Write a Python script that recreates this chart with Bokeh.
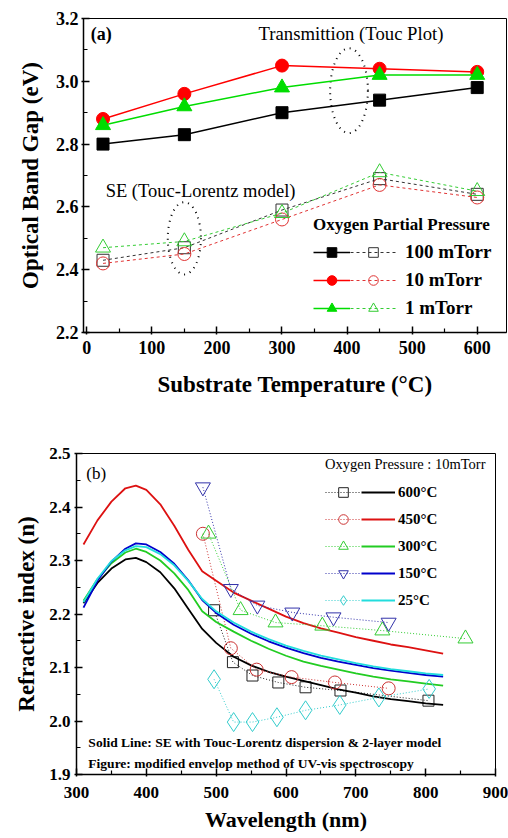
from bokeh.plotting import figure
from bokeh.models import FixedTicker, Label, Legend, LegendItem, PrintfTickFormatter
from bokeh.embed import file_html
from bokeh.resources import INLINE

# ---------------- data: panel (a) ----------------
temps = [25, 150, 300, 450, 600]
tr_100 = [2.80, 2.83, 2.90, 2.94, 2.98]
tr_10 = [2.88, 2.96, 3.05, 3.04, 3.03]
tr_1 = [2.86, 2.92, 2.98, 3.02, 3.02]
se_100 = [2.43, 2.47, 2.59, 2.69, 2.64]
se_10 = [2.42, 2.45, 2.56, 2.67, 2.63]
se_1 = [2.47, 2.49, 2.58, 2.71, 2.65]
pressure_labels = ["100 mTorr", "10 mTorr", "1 mTorr"]
a_xticks = [0, 100, 200, 300, 400, 500, 600]
a_yticks = [2.2, 2.4, 2.6, 2.8, 3.0, 3.2]

# ---------------- data: panel (b) ----------------
wl_curve = [310, 330, 350, 370, 385, 400, 420, 440, 460, 480, 500, 525,
            550, 575, 600, 625, 650, 675, 700, 725, 750, 775, 800, 825]
n_600 = [2.220, 2.258, 2.285, 2.302, 2.305, 2.297, 2.278, 2.248, 2.210, 2.172, 2.146, 2.120,
         2.104, 2.092, 2.083, 2.075, 2.067, 2.059, 2.053, 2.046, 2.041, 2.037, 2.033, 2.030]
n_450 = [2.330, 2.375, 2.410, 2.435, 2.440, 2.432, 2.405, 2.365, 2.320, 2.280, 2.262, 2.240,
         2.225, 2.210, 2.195, 2.183, 2.173, 2.165, 2.157, 2.150, 2.143, 2.138, 2.132, 2.126]
n_300 = [2.225, 2.265, 2.295, 2.315, 2.322, 2.316, 2.300, 2.276, 2.245, 2.205, 2.185, 2.167,
         2.150, 2.135, 2.122, 2.111, 2.103, 2.096, 2.089, 2.083, 2.078, 2.074, 2.070, 2.066]
n_150 = [2.212, 2.262, 2.298, 2.322, 2.332, 2.330, 2.316, 2.294, 2.263, 2.226, 2.202, 2.180,
         2.163, 2.149, 2.137, 2.127, 2.118, 2.111, 2.105, 2.099, 2.094, 2.090, 2.086, 2.083]
n_25 = [2.222, 2.266, 2.299, 2.319, 2.327, 2.325, 2.312, 2.291, 2.262, 2.228, 2.205, 2.184,
        2.167, 2.153, 2.141, 2.131, 2.122, 2.115, 2.108, 2.102, 2.097, 2.093, 2.089, 2.086]

env_wl_600 = [497, 524, 552, 589, 628, 678, 804]
env_n_600 = [2.207, 2.110, 2.085, 2.072, 2.063, 2.057, 2.038]
env_wl_450 = [481, 521, 558, 608, 670, 747]
env_n_450 = [2.350, 2.136, 2.096, 2.082, 2.072, 2.061]
env_wl_300 = [489, 535, 585, 652, 738, 857]
env_n_300 = [2.350, 2.207, 2.184, 2.178, 2.169, 2.154]
env_wl_150 = [481, 521, 559, 609, 668, 747]
env_n_150 = [2.437, 2.247, 2.216, 2.203, 2.194, 2.184]
env_wl_25 = [497, 525, 552, 587, 628, 677, 733, 805]
env_n_25 = [2.078, 1.998, 1.998, 2.007, 2.020, 2.030, 2.044, 2.060]
temp_labels = ["600°C", "450°C", "300°C", "150°C", "25°C"]
b_xticks = [300, 400, 500, 600, 700, 800, 900]
b_yticks = [1.9, 2.0, 2.1, 2.2, 2.3, 2.4, 2.5]

FONT = "Liberation Serif"


def style_axes(p, tick_size, title_size):
    for ax in (p.xaxis[0], p.yaxis[0]):
        ax.axis_line_width = 1.5
        ax.axis_line_color = "black"
        ax.major_tick_line_width = 1.5
        ax.minor_tick_line_width = 1.2
        ax.major_tick_in = 6
        ax.major_tick_out = 2
        ax.minor_tick_in = 4
        ax.minor_tick_out = 0
        ax.major_label_text_font = FONT
        ax.major_label_text_font_style = "bold"
        ax.major_label_text_font_size = tick_size
        ax.major_label_text_color = "black"
        ax.axis_label_text_font = FONT
        ax.axis_label_text_font_style = "bold"
        ax.axis_label_text_font_size = title_size
        ax.axis_label_text_color = "black"
    p.xgrid.visible = False
    p.ygrid.visible = False
    p.outline_line_color = "black"
    p.outline_line_width = 1
    p.background_fill_color = "white"
    p.border_fill_color = "white"


def make_legend(items, loc, gw, standoff, fsize, spacing, title=None, tsize="16px",
                tstand=5, tstyle="bold"):
    lg = Legend(items=items, location=loc, glyph_width=gw, glyph_height=24, label_height=24,
                label_standoff=standoff, spacing=spacing, padding=0, margin=0,
                border_line_color=None, background_fill_alpha=0,
                label_text_font=FONT, label_text_font_style="bold",
                label_text_font_size=fsize, label_text_color="black")
    if title is not None:
        lg.title = title
        lg.title_text_font = FONT
        lg.title_text_font_style = tstyle
        lg.title_text_font_size = tsize
        lg.title_text_color = "black"
        lg.title_standoff = tstand
    return lg


# ================= panel (a) =================
p1 = figure(width=508, height=408, x_range=(-5, 645), y_range=(2.2, 3.2),
            output_backend="svg", toolbar_location=None,
            min_border_left=83, min_border_right=2, min_border_top=18, min_border_bottom=76,
            x_axis_label="Substrate Temperature (°C)", y_axis_label="Optical Band Gap (eV)")
style_axes(p1, "18px", "23px")
p1.xaxis.ticker = FixedTicker(ticks=a_xticks, minor_ticks=[50, 150, 250, 350, 450, 550])
p1.yaxis.ticker = FixedTicker(ticks=a_yticks, minor_ticks=[2.3, 2.5, 2.7, 2.9, 3.1])
p1.yaxis.formatter = PrintfTickFormatter(format="%.1f")
p1.xaxis.major_label_standoff = 6
p1.xaxis.axis_label_standoff = 15
p1.yaxis.major_label_standoff = 3
p1.yaxis.axis_label_standoff = 10

# dotted ellipses marking the regions
p1.ellipse(x=[403], y=[2.97], width=[58], height=[0.27], fill_color=None,
           line_color="black", line_dash="1 5", line_width=2)
p1.ellipse(x=[150], y=[2.50], width=[51], height=[0.23], fill_color=None,
           line_color="black", line_dash="1 5", line_width=2)

a_series = [
    (tr_100, se_100, "square", "black", "#333333", 12),
    (tr_10, se_10, "circle", "#FF0000", "#E03333", 13),
    (tr_1, se_1, "triangle", "#00DD00", "#33CC33", 15),
]
items_a_left = []
items_a_right = []
for (tr, se, mk, col, ocol, sz), lab in zip(a_series, pressure_labels):
    dl = p1.line(temps, se, line_color=ocol, line_dash="3 3", line_width=1)
    om = p1.scatter(temps, se, marker=mk, size=sz, fill_color=None, line_color=ocol, line_width=1)
    sl = p1.line(temps, tr, line_color=col, line_width=1.5)
    fm = p1.scatter(temps, tr, marker=mk, size=sz, fill_color=col, line_color=col)
    items_a_left.append(LegendItem(label=" ", renderers=[sl, fm]))
    items_a_right.append(LegendItem(label=lab, renderers=[dl, om]))

p1.add_layout(make_legend(items_a_left, (230, 12), 37, 0, "19px", 4,
                          title="Oxygen Partial Pressure", tsize="17px", tstand=5))
p1.add_layout(make_legend(items_a_right, (267, 12), 46, 9, "19px", 4))

p1.add_layout(Label(x=6, y=3.152, text="(a)", text_font=FONT, text_font_style="bold",
                    text_font_size="18px", text_baseline="middle", text_color="black"))
p1.add_layout(Label(x=264, y=3.152, text="Transmittion (Touc Plot)", text_font=FONT,
                    text_font_size="18.7px", text_baseline="middle", text_color="black"))
p1.add_layout(Label(x=29, y=2.652, text="SE (Touc-Lorentz model)", text_font=FONT,
                    text_font_size="18.5px", text_baseline="middle", text_color="black"))

# ================= panel (b) =================
p2 = figure(width=508, height=430, x_range=(300, 900), y_range=(1.9, 2.5),
            output_backend="svg", toolbar_location=None,
            min_border_left=76, min_border_right=13, min_border_top=45, min_border_bottom=64,
            x_axis_label="Wavelength (nm)", y_axis_label="Refractive index (n)")
style_axes(p2, "17px", "22px")
p2.yaxis.axis_label_text_font_size = "23px"
p2.xaxis.ticker = FixedTicker(ticks=b_xticks, minor_ticks=[350, 450, 550, 650, 750, 850])
p2.yaxis.ticker = FixedTicker(ticks=b_yticks,
                              minor_ticks=[1.95, 2.05, 2.15, 2.25, 2.35, 2.45])
p2.yaxis.formatter = PrintfTickFormatter(format="%.1f")
p2.xaxis.major_label_standoff = 10
p2.xaxis.axis_label_standoff = 6
p2.yaxis.major_label_standoff = 4
p2.yaxis.axis_label_standoff = 7

b_series = [
    (n_600, env_wl_600, env_n_600, "square", "black", "#222222", 11),
    (n_450, env_wl_450, env_n_450, "circle", "#DD1111", "#CC3333", 13),
    (n_300, env_wl_300, env_n_300, "triangle", "#22CC22", "#33CC33", 15),
    (n_150, env_wl_150, env_n_150, "inverted_triangle", "#0000CC", "#3333AA", 15),
    (n_25, env_wl_25, env_n_25, "diamond", "#22DDDD", "#33CCCC", 19),
]
items_b_left = []
items_b_right = []
for (curve, ewl, en, mk, col, ocol, sz), lab in zip(b_series, temp_labels):
    dl = p2.line(ewl, en, line_color=ocol, line_dash="1 2", line_width=1)
    om = p2.scatter(ewl, en, marker=mk, size=sz, fill_color=None,
                    line_color=ocol, line_width=1)
    sl = p2.line(wl_curve, curve, line_color=col, line_width=1.8)
    items_b_left.append(LegendItem(label=" ", renderers=[dl, om]))
    items_b_right.append(LegendItem(label=lab, renderers=[sl]))

p2.add_layout(make_legend(items_b_left, (249, 162), 36, 0, "15px", 3,
                          title="Oxygen Pressure : 10mTorr", tsize="14.5px", tstand=7,
                          tstyle="normal"))
p2.add_layout(make_legend(items_b_right, (285, 162), 34, 3, "15px", 3))

p2.add_layout(Label(x=314, y=2.463, text="(b)", text_font=FONT,
                    text_font_size="17px", text_baseline="middle", text_color="black"))
p2.add_layout(Label(x=317, y=1.960,
                    text="Solid Line:  SE with Touc-Lorentz dispersion & 2-layer model",
                    text_font=FONT, text_font_style="bold", text_font_size="13.5px",
                    text_baseline="middle", text_color="black"))
p2.add_layout(Label(x=317, y=1.921,
                    text="Figure: modified envelop method of UV-vis spectroscopy",
                    text_font=FONT, text_font_style="bold", text_font_size="13.5px",
                    text_baseline="middle", text_color="black"))

open("out.html", "w").write(file_html([p1, p2], INLINE))
